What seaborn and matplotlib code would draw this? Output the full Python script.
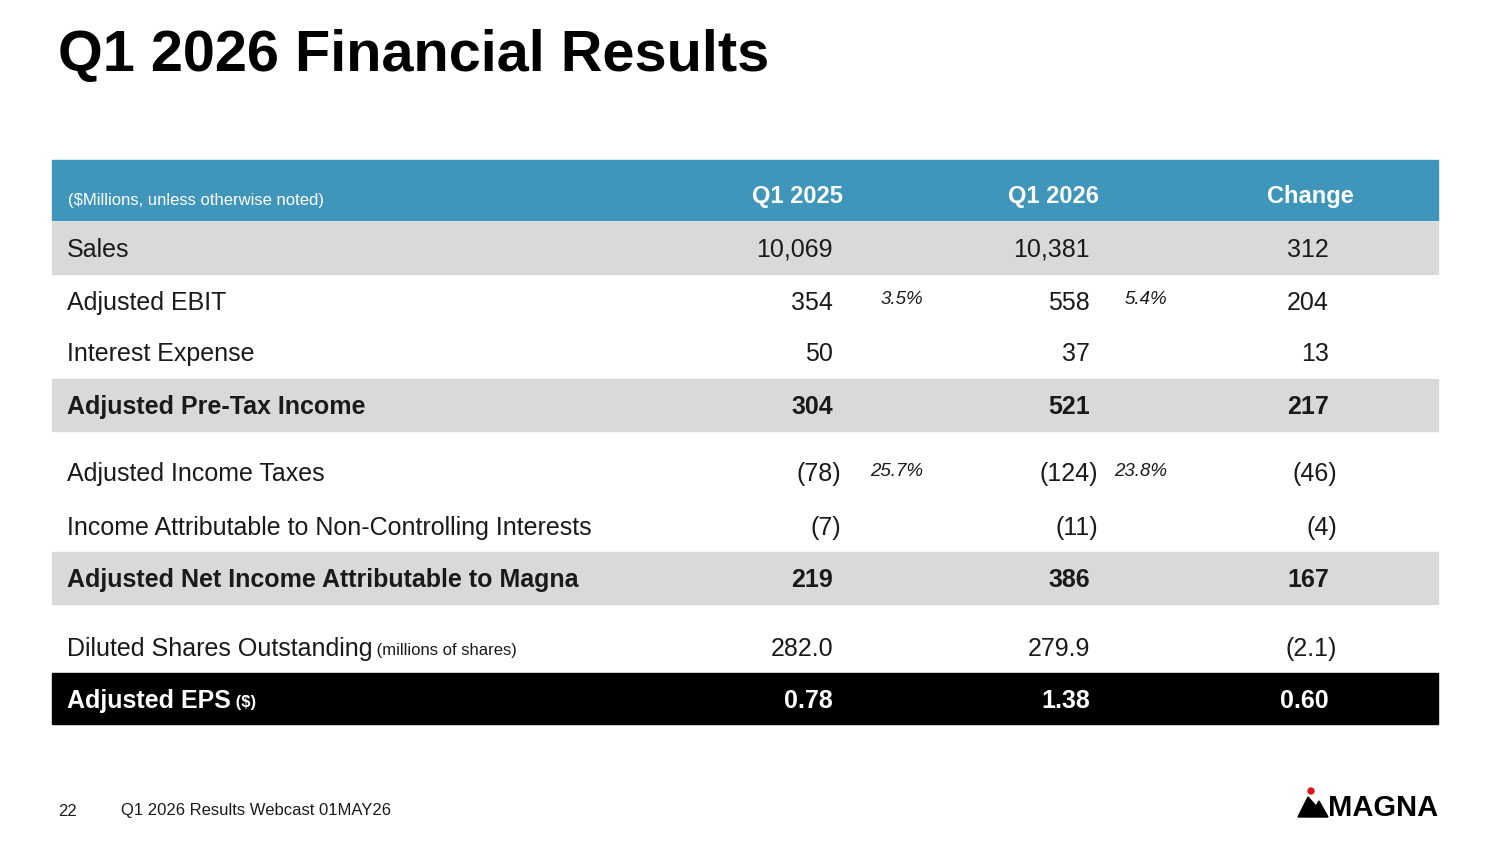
import matplotlib
matplotlib.use("Agg")
import matplotlib.pyplot as plt
from matplotlib.patches import Rectangle, Polygon, Circle
import seaborn as sns

sns.set_theme(style="white")
plt.rcParams['font.family'] = ['Liberation Sans', 'DejaVu Sans']

labels = ["Sales", "Adjusted EBIT", "Interest Expense", "Adjusted Pre-Tax Income",
          "Adjusted Income Taxes", "Income Attributable to Non-Controlling Interests",
          "Adjusted Net Income Attributable to Magna", "Diluted Shares Outstanding", "Adjusted EPS"]
q1_2025 = ["10,069", "354", "50", "304", "(78)", "(7)", "219", "282.0", "0.78"]
q1_2026 = ["10,381", "558", "37", "521", "(124)", "(11)", "386", "279.9", "1.38"]
change = ["312", "204", "13", "217", "(46)", "(4)", "167", "(2.1)", "0.60"]
pct_2025 = ["", "3.5%", "", "", "25.7%", "", "", "", ""]
pct_2026 = ["", "5.4%", "", "", "23.8%", "", "", "", ""]
suffix = ["", "", "", "", "", "", "", " (millions of shares)", " ($)"]

row_y = [248, 301, 352, 405, 472, 526, 578, 647, 699]
style = ["gray", "plain", "plain", "grayb", "plain", "plain", "grayb", "plain", "black"]

fig = plt.figure(figsize=(15, 8.44), dpi=100)
ax = fig.add_axes([0, 0, 1, 1])
ax.set_xlim(0, 1500); ax.set_ylim(844, 0); ax.axis("off")

ax.text(58, 56, "Q1 2026 Financial Results", fontsize=41.5, fontweight="bold", va="center", color="black")

ax.add_patch(Rectangle((52, 160), 1386, 60, color="#3f96ba"))
ax.text(68, 200, "($Millions, unless otherwise noted)", fontsize=12, color="white", va="center")
for x, t in [(797, "Q1 2025"), (1053, "Q1 2026"), (1310, "Change")]:
    ax.text(x, 197, t, fontsize=17, fontweight="bold", color="white", va="center", ha="center")

for i, lab in enumerate(labels):
    y = row_y[i]; s = style[i]
    bold = s in ("grayb", "black")
    col = "white" if s == "black" else "#1a1a1a"
    if s in ("gray", "grayb"):
        ax.add_patch(Rectangle((52, y - 26), 1386, 52, color="#d9d9d9"))
    if s == "black":
        ax.add_patch(Rectangle((52, y - 26), 1386, 51, color="black"))
    fw = "bold" if bold else "normal"
    ty = y + 2
    t = ax.text(67, ty, lab, fontsize=18, fontweight=fw, color=col, va="center")
    if suffix[i]:
        ax.annotate(suffix[i], xycoords=t, xy=(1, 0.45), va="center", fontsize=12,
                    fontweight=fw, color=col)
    for xr, v in [(833, q1_2025[i]), (1090, q1_2026[i]), (1329, change[i])]:
        xx = xr + 8 if v.startswith("(") else xr
        ax.text(xx, ty, v, fontsize=18, fontweight=fw, color=col, va="center", ha="right")
    for xr, v in [(923, pct_2025[i]), (1167, pct_2026[i])]:
        if v:
            ax.text(xr, y - 1, v, fontsize=13.5, style="italic", color=col, va="center", ha="right")

ax.text(58, 811, "22", fontsize=12, va="center", color="#1a1a1a")
ax.text(121, 811, "Q1 2026 Results Webcast 01MAY26", fontsize=12, va="center", color="#1a1a1a")

# logo
ax.add_patch(Polygon([[1298, 817], [1308, 797], [1316, 806], [1310, 817]], color="black"))
ax.add_patch(Polygon([[1310, 817], [1319, 801], [1328, 817]], color="black"))
ax.add_patch(Circle((1311, 791), 3, color="#d7141d"))
ax.text(1328, 808, "MAGNA", fontsize=21, fontweight="bold", va="center", color="black")

fig.savefig("out.png", dpi=100)
